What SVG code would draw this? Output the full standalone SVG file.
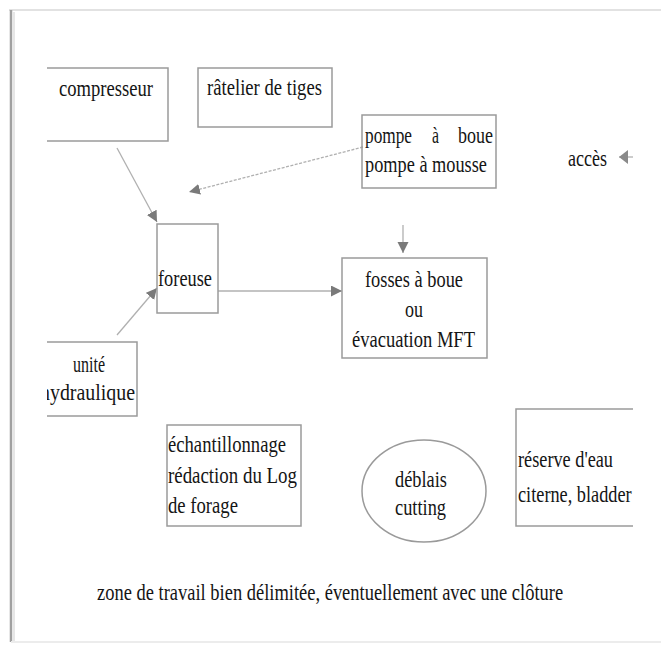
<svg xmlns="http://www.w3.org/2000/svg" width="661" height="646" viewBox="0 0 661 646">
<style>
text{font-family:"Liberation Serif","Times New Roman",serif;font-size:24px;fill:#151515}
.box{fill:none;stroke:#9a9a9a;stroke-width:1.5}
.con{fill:none;stroke:#b0b0b0;stroke-width:1.3}
.dash{stroke-dasharray:3 1.5}
</style>
<defs>
<marker id="ah" markerUnits="userSpaceOnUse" markerWidth="12" markerHeight="12" refX="11" refY="5.5" orient="auto">
<path d="M0,0 L11,5.5 L0,11 z" fill="#7a7a7a"/>
</marker>
<marker id="ahs" markerUnits="userSpaceOnUse" markerWidth="10" markerHeight="14" refX="9" refY="7" orient="auto">
<path d="M0,0 L9,7 L0,14 z" fill="#8a8a8a"/>
</marker>
<clipPath id="area"><rect x="47" y="12" width="586" height="560"/></clipPath>
</defs>
<rect width="661" height="646" fill="#ffffff"/>
<g id="frame">
<line x1="9" y1="10" x2="661" y2="10" stroke="#e2e2e2" stroke-width="2"/>
<line x1="11" y1="10" x2="11" y2="642" stroke="#a0a0a0" stroke-width="2.5"/>
<line x1="14" y1="12" x2="14" y2="642" stroke="#e6e6e6" stroke-width="2"/>
<line x1="11" y1="642" x2="661" y2="642" stroke="#ececec" stroke-width="2"/>
</g>
<g clip-path="url(#area)">
<g id="connectors">
<line class="con" x1="117" y1="148" x2="157" y2="222" marker-end="url(#ah)"/>
<line class="con dash" x1="363" y1="147" x2="189" y2="192" marker-end="url(#ah)"/>
<line class="con" x1="117" y1="335" x2="157" y2="288" marker-end="url(#ah)"/>
<line class="con" x1="218" y1="291" x2="342" y2="291" marker-end="url(#ah)"/>
<line class="con" x1="403" y1="225" x2="403" y2="253" marker-end="url(#ah)"/>
<line class="con" x1="633" y1="157" x2="619" y2="157" marker-end="url(#ahs)"/>
</g>
<g id="compresseur">
<rect class="box" x="30" y="68" width="138" height="73"/>
<text x="59" y="96" textLength="94" lengthAdjust="spacingAndGlyphs">compresseur</text>
</g>
<g id="ratelier">
<rect class="box" x="198" y="68" width="134" height="59"/>
<text x="207" y="95" textLength="115" lengthAdjust="spacingAndGlyphs">râtelier de tiges</text>
</g>
<g id="pompe">
<rect class="box" x="362" y="115" width="134" height="73"/>
<text x="365" y="143" textLength="47" lengthAdjust="spacingAndGlyphs">pompe</text>
<text x="432" y="143" textLength="7" lengthAdjust="spacingAndGlyphs">à</text>
<text x="458" y="143" textLength="35" lengthAdjust="spacingAndGlyphs">boue</text>
<text x="365" y="172" textLength="122" lengthAdjust="spacingAndGlyphs">pompe à mousse</text>
</g>
<g id="acces">
<text x="568" y="166" textLength="39" lengthAdjust="spacingAndGlyphs">accès</text>
</g>
<g id="foreuse">
<rect class="box" x="157" y="224" width="61" height="89"/>
<text x="158" y="286" textLength="54" lengthAdjust="spacingAndGlyphs">foreuse</text>
</g>
<g id="fosses">
<rect class="box" x="342" y="258" width="145" height="100"/>
<text x="365" y="287" textLength="98" lengthAdjust="spacingAndGlyphs">fosses à boue</text>
<text x="405" y="317" textLength="18" lengthAdjust="spacingAndGlyphs">ou</text>
<text x="352" y="347" textLength="123" lengthAdjust="spacingAndGlyphs">évacuation MFT</text>
</g>
<g id="unite">
<rect class="box" x="30" y="342" width="107" height="74"/>
<text x="73" y="372" textLength="32" lengthAdjust="spacingAndGlyphs">unité</text>
<text x="40" y="400" textLength="95" lengthAdjust="spacingAndGlyphs">hydraulique</text>
</g>
<g id="echantillonnage">
<rect class="box" x="167" y="425" width="134" height="101"/>
<text x="168" y="452" textLength="118" lengthAdjust="spacingAndGlyphs">échantillonnage</text>
<text x="168" y="483" textLength="129" lengthAdjust="spacingAndGlyphs">rédaction du Log</text>
<text x="168" y="513" textLength="70" lengthAdjust="spacingAndGlyphs">de forage</text>
</g>
<g id="deblais">
<ellipse class="box" cx="424" cy="491" rx="62" ry="51"/>
<text x="395" y="487" textLength="52" lengthAdjust="spacingAndGlyphs">déblais</text>
<text x="395" y="515" textLength="51" lengthAdjust="spacingAndGlyphs">cutting</text>
</g>
<g id="reserve">
<rect class="box" x="516" y="409" width="150" height="117"/>
<text x="518" y="467" textLength="95" lengthAdjust="spacingAndGlyphs">réserve d'eau</text>
<text transform="translate(518,502) scale(0.762,1)" x="0" y="0">citerne, bladder</text>
</g>
</g>
<g id="zone">
<text transform="translate(97,600) scale(0.77,1)" x="0" y="0">zone de travail bien délimitée, éventuellement avec une clôture</text>
</g>
</svg>
